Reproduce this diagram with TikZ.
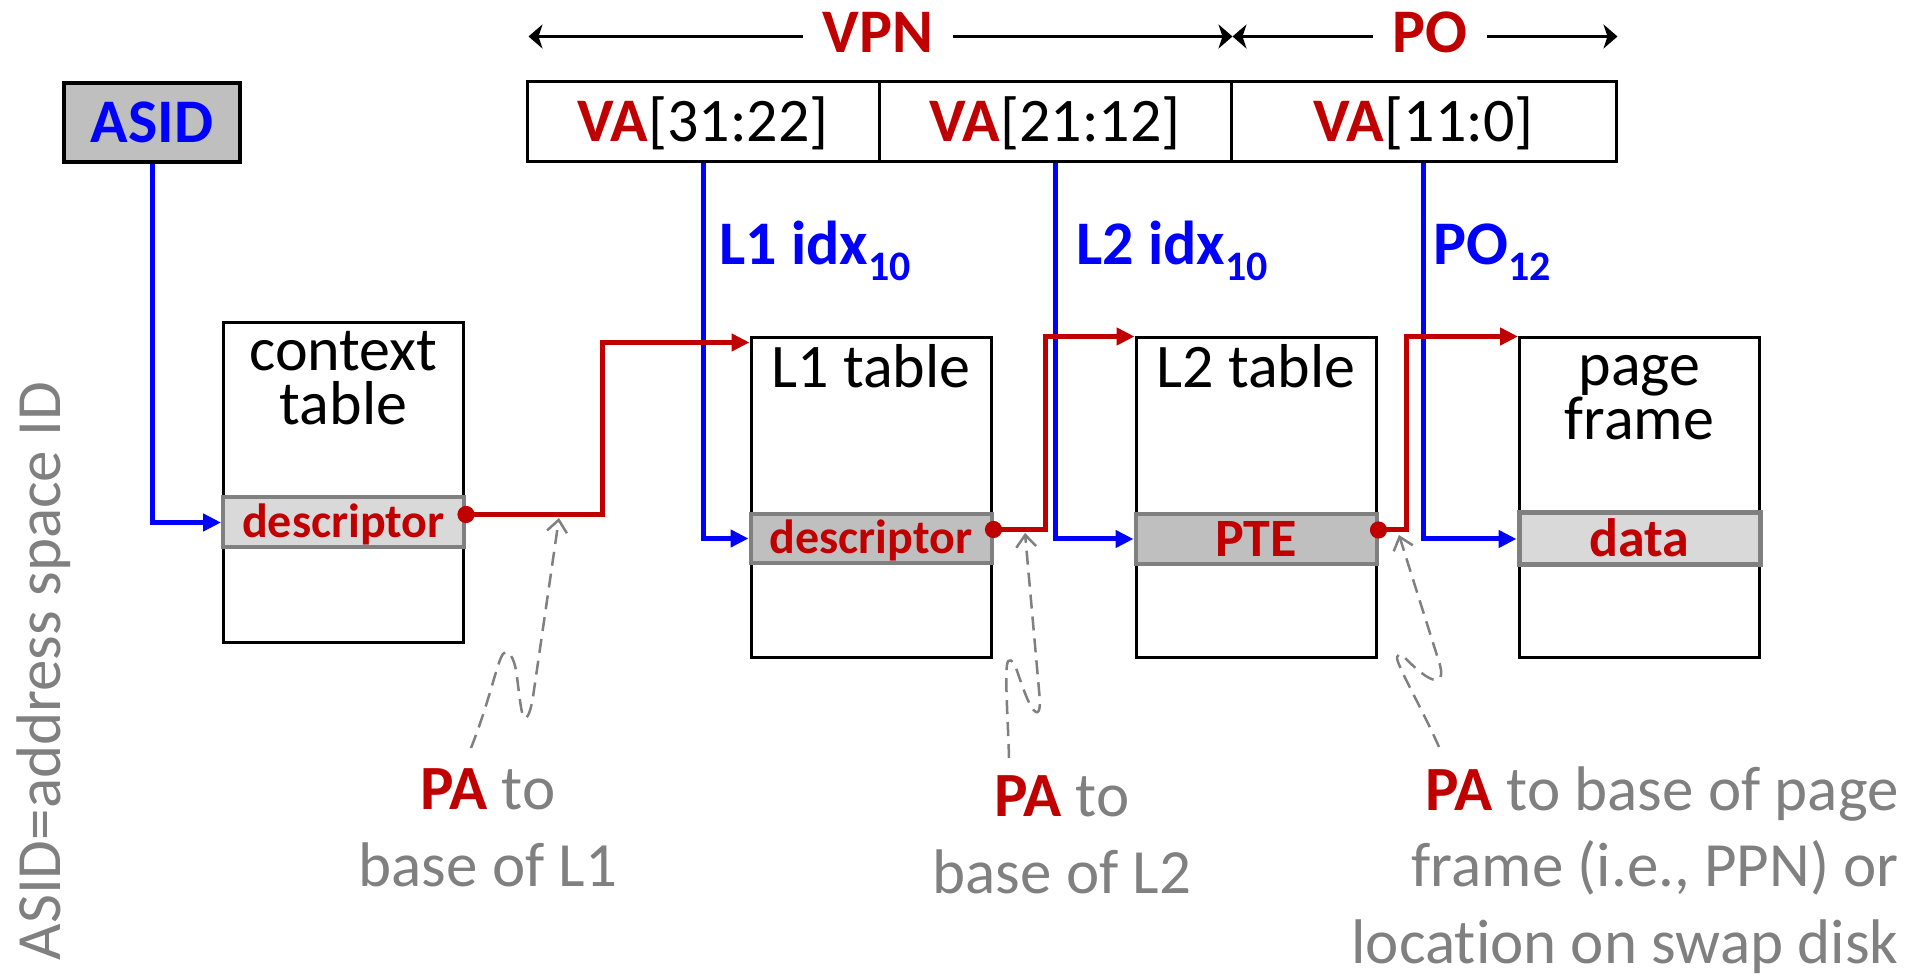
\documentclass[tikz,border=0pt]{standalone}
\usepackage{fontspec}
\setmainfont{Carlito}[Ligatures=NoCommon]
\usetikzlibrary{arrows.meta,calc}
\definecolor{cred}{HTML}{C00000}
\definecolor{cblue}{HTML}{0000FF}
\definecolor{cgray}{HTML}{808080}
\definecolor{fillA}{HTML}{BFBFBF}
\definecolor{fillB}{HTML}{D9D9D9}
\newcommand{\mysub}[1]{\raisebox{-8pt}{\fontsize{21}{21}\selectfont #1}}
\begin{document}
\begin{tikzpicture}[x=0.5pt,y=-0.5pt,
  vabox/.style={draw=black, line width=1.5pt, inner sep=0, minimum width=176pt, minimum height=40pt,
    font=\fontsize{31}{31}\selectfont, text height=20pt, text depth=0pt},
  asidbox/.style={draw=black, line width=2pt, fill=fillA, inner sep=0, minimum width=88pt, minimum height=39.5pt,
    font=\bfseries\fontsize{31}{31}\selectfont, text=cblue, text height=20pt, text depth=0pt},
  tbl/.style={draw=black, line width=1.5pt, fill=white, inner sep=0, minimum width=120pt, minimum height=160pt},
  rowbox/.style={draw=cgray, line width=2pt, inner sep=0, minimum width=120.5pt, minimum height=25pt,
    font=\bfseries\fontsize{24}{24}\selectfont, text=cred, text height=15.5pt, text depth=0pt},
  ttl/.style={inner sep=0, align=center, font=\fontsize{31}{27}\selectfont},
  blab/.style={inner sep=0, anchor=base west, text=cblue, font=\bfseries\fontsize{31}{31}\selectfont},
  hdr/.style={fill=white, inner xsep=10pt, inner ysep=2pt, text=cred, font=\bfseries\fontsize{31}{31}\selectfont, text height=20pt, text depth=0pt},
  toparrow/.style={line width=1.6pt, {Stealth[length=7pt,width=12pt,inset=2pt]}-{Stealth[length=7pt,width=12pt,inset=2pt]}},
  bl/.style={draw=cblue, line width=2.5pt, -{Triangle[length=9pt,width=8.5pt]}},
  rd/.style={draw=cred, line width=2.5pt, -{Triangle[length=9pt,width=8.5pt]}},
  dsh/.style={draw=cgray, line width=1.25pt, dash pattern=on 7pt off 4pt, -{Straight Barb[length=6pt,width=10pt]}},
  gtxt/.style={inner sep=0, text=cgray, font=\fontsize{31.5}{38.5}\selectfont}
]
\useasboundingbox (0,0) rectangle (1923,977);

% ASID and VA fields
\node[asidbox] (asid) at (152,122.5) {ASID};
\node[vabox] (va1) at (703,122) {\textcolor{cred}{\textbf{VA}}[31:22]};
\node[vabox] (va2) at (1055,122) {\textcolor{cred}{\textbf{VA}}[21:12]};
\node[vabox, minimum width=192.5pt] (va3) at (1423.5,122) {\textcolor{cred}{\textbf{VA}}[11:0]};

% header arrows
\coordinate (vpnL) at ($(va1.north west)+(3,-44)$);
\coordinate (vpnR) at ($(va2.north east)+(0,-44)$);
\coordinate (poL) at ($(va3.north west)+(3,-44)$);
\coordinate (poR) at ($(va3.north east)+(0,-44)$);
\draw[toparrow] (vpnL) -- (vpnR);
\draw[toparrow] (poL) -- (poR);
\node[hdr] (vpn) at (878,33) {VPN};
\node[hdr] (po) at (1430,33) {PO};

% tables
\node[tbl] (ctx) at (343.5,482.5) {};
\node[tbl] (l1) at (871,498) {};
\node[tbl] (l2) at (1256,498) {};
\node[tbl] (pf) at (1639.5,498) {};

\node[ttl, anchor=base] (ctxt) at (343.5,425) {context\\table};
\node[ttl, anchor=base] (l1t) at (871,388) {L1 table};
\node[ttl, anchor=base] (l2t) at (1256,388) {L2 table};
\node[ttl, anchor=base] (pft) at (1639.5,440) {page\\frame};

% rows
\node[rowbox, fill=fillB] (ctxrow) at (343.5,522.5) {descriptor};
\node[rowbox, fill=fillA, minimum height=24.5pt] (l1row) at (871,538.5) {descriptor};
\node[rowbox, fill=fillA, font=\bfseries\fontsize{27}{27}\selectfont, text height=17.4pt] (pte) at (1256,539) {PTE};
\node[rowbox, fill=fillB, line width=2.5pt, minimum height=26pt, font=\bfseries\fontsize{27}{27}\selectfont, text height=17.4pt] (data) at (1639.5,539) {data};

% blue index lines
\draw[bl] (asid.south) |- (ctxrow.west);
\draw[bl] (va1.south) |- (l1row.west);
\draw[bl] (va2.south) |- (pte.west);
\draw[bl] (va3.south) |- (data.west);

\node[blab] (l1idx) at (719,265) {L1 idx\mysub{10}};
\node[blab] (l2idx) at (1076,265) {L2 idx\mysub{10}};
\node[blab] (poidx) at (1433,265) {PO\mysub{12}};

% red pointer lines
\draw[rd] ($(ctxrow.east)+(0,-8)$) -- ++(136.5,0) |- ($(l1.north west)+(0,6)$);
\draw[rd] ($(l1row.east)+(0,-9)$) -- ++(52,0) |- (l2.north west);
\draw[rd] ($(pte.east)+(0,-9)$) -- ++(28,0) |- (pf.north west);
\fill[cred] ($(ctxrow.east)+(0,-8)$) circle[radius=4.3pt];
\fill[cred] ($(l1row.east)+(0,-9)$) circle[radius=4.3pt];
\fill[cred] ($(pte.east)+(0,-9)$) circle[radius=4.3pt];

% dashed annotation arrows
\coordinate (d1s) at (471,748);
\coordinate (d1t) at (559,518);
\coordinate (d2s) at (1009,758);
\coordinate (d2t) at (1025,533);
\coordinate (d3s) at (1439,747);
\coordinate (d3t) at (1399,535);
\draw[dsh] (d1s) .. controls (490,700) and (497,662) .. (503,654)
  .. controls (509,647) and (514,660) .. (516,670)
  .. controls (519,690) and (521,718) .. (525,718)
  .. controls (529,718) and (532,705) .. (534,690) -- (d1t);
\draw[dsh] (d2s) .. controls (1008,720) and (1005,680) .. (1007,665)
  .. controls (1008,657) and (1013,660) .. (1016,668)
  .. controls (1022,685) and (1030,710) .. (1036,712)
  .. controls (1041,714) and (1040,700) .. (1039,690) -- (d2t);
\draw[dsh] (d3s) .. controls (1425,715) and (1405,680) .. (1398,662)
  .. controls (1395,654) and (1400,652) .. (1405,658)
  .. controls (1415,668) and (1428,680) .. (1436,680)
  .. controls (1442,680) and (1442,672) .. (1440,665) -- (d3t);

% bottom labels
\node[gtxt, align=center, anchor=base] (pa1) at (488,886) {\textcolor{cred}{\textbf{PA}} to\\base of L1};
\node[gtxt, align=center, anchor=base] (pa2) at (1062,893) {\textcolor{cred}{\textbf{PA}} to\\base of L2};
\node[gtxt, align=right, anchor=base east] (pa3) at (1899,964) {\textcolor{cred}{\textbf{PA}} to base of page\\frame (i.e., PPN) or\\location on swap disk};

% vertical legend
\node[gtxt, rotate=90, anchor=base] (legend) at (60,671) {ASID=address space ID};
\end{tikzpicture}
\end{document}
